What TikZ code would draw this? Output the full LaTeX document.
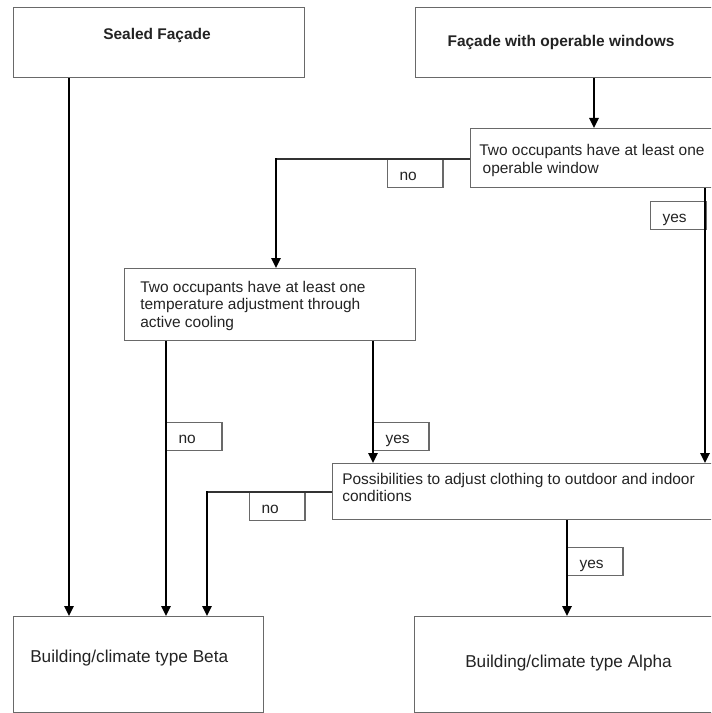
\documentclass[tikz,border=0pt]{standalone}
\usepackage{fontspec}
\setmainfont{Liberation Sans}
\usetikzlibrary{arrows.meta}
\definecolor{boxgray}{RGB}{105,105,105}
\definecolor{txtgray}{RGB}{35,35,35}
\begin{document}
\begin{tikzpicture}[x=0.75pt,y=-0.75pt,
  box/.style={draw=boxgray, line width=1pt, rectangle, inner sep=0pt, anchor=north west},
  lblbox/.style={draw=boxgray, line width=0.9pt, rectangle, anchor=north west,
    minimum width=41.5pt, minimum height=21pt, inner xsep=9pt, inner ysep=0pt,
    text width=23.5pt, align=left, text height=10.8pt, text depth=0pt,
    font=\fontsize{11.6}{13.1}\selectfont, text=txtgray},
  txt/.style={inner sep=0pt, align=left, anchor=north west, text=txtgray,
    font=\fontsize{11.6}{13.1}\selectfont},
  bigtxt/.style={txt, font=\fontsize{12.9}{15}\selectfont},
  headtxt/.style={inner sep=0pt, anchor=north, text=txtgray,
    font=\fontsize{11.6}{13.1}\selectfont\bfseries},
  flow/.style={draw=black, line width=1.6pt, -{Triangle[length=7.5pt,width=7pt]}},
  thinline/.style={draw=black!80, line width=1pt}
]
\path[use as bounding box, clip] (0,0) rectangle (711,713);

% boxes
\node[box, minimum width=218.25pt, minimum height=52.5pt] (sealed) at (13,7) {};
\node[box, minimum width=228.75pt, minimum height=52.5pt] (facade) at (415,7) {};
\node[box, minimum width=187.5pt, minimum height=44.25pt] (oper) at (470,128) {};
\node[box, minimum width=218.25pt, minimum height=54pt] (temp) at (124,268) {};
\node[box, minimum width=291pt, minimum height=42pt] (poss) at (332,463) {};
\node[box, minimum width=187.5pt, minimum height=72pt] (beta) at (13,616) {};
\node[box, minimum width=233.25pt, minimum height=72pt] (alpha) at (414,616) {};

% texts
\node[headtxt] (tsealed) at (157,27.7) {Sealed Façade};
\node[headtxt] (tfacade) at (561,35) {Façade with operable windows};
\node[txt] (toper) at (479,144.3) {Two occupants have at least one\\\hspace*{0.22em}operable window};
\node[txt] (ttemp) at (140,280.7) {Two occupants have at least one\\temperature adjustment through\\active cooling};
\node[txt] (tposs) at (342,472.7) {Possibilities to adjust clothing to outdoor and indoor\\conditions};
\node[bigtxt] (tbeta) at (30,649.3) {Building/climate type Beta};
\node[bigtxt] (talpha) at (465,655) {Building/climate type Alpha};

% label boxes
\node[lblbox] (no1) at (387,159) {no};
\node[lblbox] (yes1) at (650,201) {yes};
\node[lblbox] (no2) at (166,422) {no};
\node[lblbox] (yes2) at (373,422) {yes};
\node[lblbox] (no3) at (249,492) {no};
\node[lblbox] (yes3) at (567,547) {yes};

% helper coordinates
\coordinate (xa) at (69,0);
\coordinate (xb) at (594,0);
\coordinate (xc) at (705,0);
\coordinate (xd) at (166,0);
\coordinate (xe) at (373,0);
\coordinate (xf) at (567,0);
\coordinate (k1) at (276,159);
\coordinate (k2) at (207,492);

% connectors
\draw[flow] (sealed.south -| xa) -- (beta.north -| xa);
\draw[flow] (facade.south -| xb) -- (oper.north -| xb);
\draw[flow] (oper.south -| xc) -- (poss.north -| xc);
\draw[thinline] (oper.west |- k1) -- (k1);
\draw[flow] ([yshift=0.5pt]k1) -- (k1 |- temp.north);
\draw[flow] (temp.south -| xd) -- (beta.north -| xd);
\draw[flow] (temp.south -| xe) -- (poss.north -| xe);
\draw[thinline] (poss.west |- k2) -- (k2);
\draw[flow] ([yshift=0.5pt]k2) -- (k2 |- beta.north);
\draw[flow] (poss.south -| xf) -- (alpha.north -| xf);
\end{tikzpicture}
\end{document}
